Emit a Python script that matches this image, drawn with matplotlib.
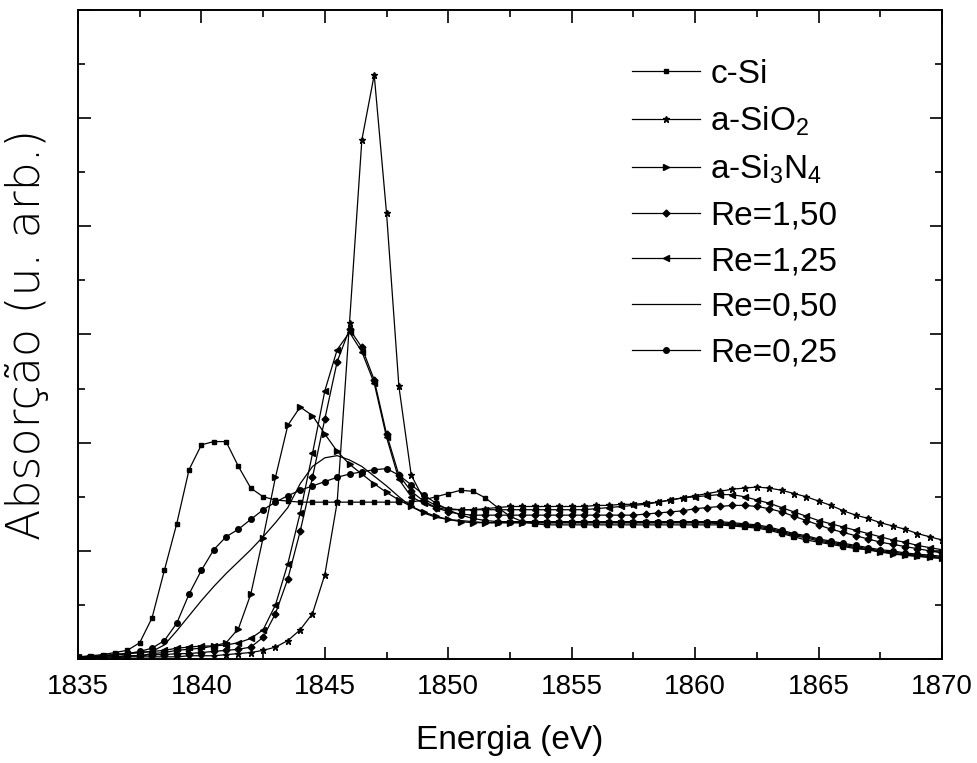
import matplotlib
matplotlib.use("Agg")
import matplotlib.pyplot as plt
from matplotlib.ticker import MultipleLocator, NullFormatter

plt.rcParams['font.family'] = ['Liberation Sans', 'DejaVu Sans']
plt.rcParams['mathtext.fontset'] = 'custom'
plt.rcParams['mathtext.rm'] = 'Liberation Sans'
plt.rcParams['mathtext.it'] = 'Liberation Sans:italic'

# energy grid (eV), 0.5 eV steps
energy = [1835.0, 1835.5, 1836.0, 1836.5, 1837.0, 1837.5, 1838.0, 1838.5, 1839.0, 1839.5,
          1840.0, 1840.5, 1841.0, 1841.5, 1842.0, 1842.5, 1843.0, 1843.5, 1844.0, 1844.5,
          1845.0, 1845.5, 1846.0, 1846.5, 1847.0, 1847.5, 1848.0, 1848.5, 1849.0, 1849.5,
          1850.0, 1850.5, 1851.0, 1851.5, 1852.0, 1852.5, 1853.0, 1853.5, 1854.0, 1854.5,
          1855.0, 1855.5, 1856.0, 1856.5, 1857.0, 1857.5, 1858.0, 1858.5, 1859.0, 1859.5,
          1860.0, 1860.5, 1861.0, 1861.5, 1862.0, 1862.5, 1863.0, 1863.5, 1864.0, 1864.5,
          1865.0, 1865.5, 1866.0, 1866.5, 1867.0, 1867.5, 1868.0, 1868.5, 1869.0, 1869.5,
          1870.0]

c_si = [0.02, 0.03, 0.04, 0.06, 0.08, 0.15, 0.38, 0.82, 1.25, 1.75,
        1.98, 2.01, 2.01, 1.78, 1.58, 1.50, 1.47, 1.46, 1.45, 1.45,
        1.45, 1.45, 1.45, 1.45, 1.45, 1.45, 1.45, 1.45, 1.47, 1.50,
        1.53, 1.56, 1.55, 1.49, 1.40, 1.32, 1.27, 1.25, 1.24, 1.24,
        1.24, 1.24, 1.24, 1.24, 1.24, 1.24, 1.24, 1.24, 1.24, 1.24,
        1.24, 1.24, 1.24, 1.23, 1.22, 1.21, 1.19, 1.16, 1.13, 1.10,
        1.08, 1.06, 1.04, 1.02, 1.01, 0.99, 0.98, 0.96, 0.95, 0.94,
        0.93]

a_sio2 = [0.01, 0.01, 0.01, 0.01, 0.02, 0.02, 0.02, 0.02, 0.02, 0.03,
          0.03, 0.03, 0.04, 0.05, 0.06, 0.08, 0.11, 0.17, 0.27, 0.42,
          0.78, 1.45, 3.11, 4.80, 5.40, 4.12, 2.52, 1.70, 1.48, 1.42,
          1.39, 1.38, 1.38, 1.39, 1.40, 1.41, 1.41, 1.41, 1.41, 1.41,
          1.41, 1.41, 1.42, 1.42, 1.43, 1.43, 1.44, 1.45, 1.47, 1.49,
          1.51, 1.53, 1.55, 1.57, 1.58, 1.59, 1.58, 1.56, 1.53, 1.50,
          1.46, 1.42, 1.37, 1.33, 1.30, 1.26, 1.23, 1.20, 1.16, 1.13,
          1.10]

a_si3n4 = [0.01, 0.01, 0.02, 0.02, 0.03, 0.03, 0.05, 0.06, 0.08, 0.09,
           0.10, 0.12, 0.15, 0.28, 0.60, 1.12, 1.68, 2.16, 2.33, 2.25,
           2.08, 1.92, 1.80, 1.71, 1.62, 1.54, 1.47, 1.41, 1.36, 1.32,
           1.29, 1.27, 1.26, 1.26, 1.26, 1.26, 1.26, 1.26, 1.26, 1.26,
           1.26, 1.26, 1.26, 1.26, 1.26, 1.26, 1.26, 1.26, 1.26, 1.26,
           1.26, 1.26, 1.25, 1.24, 1.23, 1.22, 1.20, 1.17, 1.14, 1.12,
           1.09, 1.07, 1.05, 1.03, 1.01, 0.99, 0.97, 0.96, 0.95, 0.94,
           0.93]

re_150 = [0.01, 0.01, 0.02, 0.02, 0.03, 0.03, 0.04, 0.04, 0.05, 0.05,
          0.06, 0.07, 0.08, 0.09, 0.11, 0.20, 0.42, 0.74, 1.18, 1.68,
          2.22, 2.75, 3.05, 2.88, 2.58, 2.08, 1.70, 1.55, 1.46, 1.40,
          1.36, 1.34, 1.33, 1.33, 1.33, 1.33, 1.33, 1.33, 1.33, 1.33,
          1.33, 1.33, 1.33, 1.33, 1.33, 1.33, 1.34, 1.35, 1.36, 1.37,
          1.39, 1.40, 1.41, 1.42, 1.42, 1.41, 1.39, 1.36, 1.32, 1.28,
          1.24, 1.20, 1.17, 1.14, 1.11, 1.08, 1.06, 1.04, 1.02, 1.00,
          0.98]

re_125 = [0.02, 0.02, 0.03, 0.04, 0.05, 0.06, 0.07, 0.08, 0.10, 0.11,
          0.12, 0.12, 0.13, 0.15, 0.19, 0.27, 0.50, 0.88, 1.35, 1.90,
          2.48, 2.86, 3.02, 2.84, 2.55, 2.05, 1.66, 1.50, 1.44, 1.40,
          1.38, 1.38, 1.38, 1.38, 1.38, 1.38, 1.38, 1.38, 1.38, 1.38,
          1.38, 1.38, 1.39, 1.40, 1.41, 1.42, 1.43, 1.45, 1.47, 1.49,
          1.50, 1.51, 1.52, 1.52, 1.50, 1.47, 1.44, 1.40, 1.36, 1.32,
          1.28, 1.25, 1.22, 1.19, 1.16, 1.13, 1.10, 1.08, 1.05, 1.03,
          1.01]

re_050 = [0.02, 0.02, 0.03, 0.04, 0.05, 0.06, 0.07, 0.13, 0.26, 0.40,
          0.54, 0.67, 0.79, 0.90, 1.01, 1.13, 1.26, 1.40, 1.62, 1.78,
          1.86, 1.88, 1.84, 1.78, 1.69, 1.60, 1.50, 1.41, 1.35, 1.31,
          1.29, 1.28, 1.27, 1.26, 1.26, 1.26, 1.26, 1.26, 1.26, 1.26,
          1.26, 1.26, 1.26, 1.26, 1.26, 1.26, 1.26, 1.26, 1.26, 1.26,
          1.26, 1.26, 1.26, 1.25, 1.24, 1.23, 1.21, 1.18, 1.15, 1.13,
          1.10, 1.08, 1.06, 1.04, 1.02, 1.00, 0.99, 0.97, 0.96, 0.95,
          0.94]

re_025 = [0.02, 0.02, 0.03, 0.04, 0.05, 0.07, 0.10, 0.17, 0.33, 0.60,
          0.82, 1.01, 1.13, 1.20, 1.29, 1.38, 1.45, 1.51, 1.56, 1.60,
          1.64, 1.68, 1.71, 1.73, 1.75, 1.76, 1.70, 1.61, 1.52, 1.44,
          1.38, 1.33, 1.30, 1.28, 1.27, 1.27, 1.27, 1.27, 1.27, 1.27,
          1.27, 1.27, 1.27, 1.27, 1.27, 1.27, 1.27, 1.27, 1.27, 1.27,
          1.27, 1.27, 1.27, 1.26, 1.25, 1.24, 1.22, 1.19, 1.16, 1.14,
          1.11, 1.09, 1.07, 1.05, 1.03, 1.01, 1.00, 0.98, 0.97, 0.96,
          0.95]

labels = ['c-Si', r'a-SiO$_\mathregular{2}$', r'a-Si$_\mathregular{3}$N$_\mathregular{4}$',
          'Re=1,50', 'Re=1,25', 'Re=0,50', 'Re=0,25']
series = [c_si, a_sio2, a_si3n4, re_150, re_125, re_050, re_025]
markers = ['s', '*', '>', 'D', '<', None, 'o']
msizes = [3.5, 5, 4.5, 3.5, 4.5, 0, 4]

fig = plt.figure(figsize=(9.77, 7.63), dpi=100)
ax = fig.add_axes([0.0798, 0.1363, 0.8844, 0.8506])

for y, lab, m, ms in zip(series, labels, markers, msizes):
    ax.plot(energy, y, color='black', linewidth=0.9, marker=m, markersize=ms,
            label=lab)

ax.set_xlim(1835, 1870)
ax.set_ylim(0, 6)
ax.xaxis.set_major_locator(MultipleLocator(5))
ax.xaxis.set_minor_locator(MultipleLocator(2.5))
ax.yaxis.set_major_locator(MultipleLocator(1))
ax.yaxis.set_minor_locator(MultipleLocator(0.5))
ax.yaxis.set_major_formatter(NullFormatter())
ax.tick_params(which='both', direction='in', top=True, right=True, width=1.2)
ax.tick_params(which='major', length=9, labelsize=20, pad=11)
ax.tick_params(which='minor', length=5)
for s in ax.spines.values():
    s.set_linewidth(1.4)

ax.set_xlabel('Energia (eV)', fontsize=24, labelpad=18)
# the scanned y label is long and thin, a wider face gets closer
ax.set_ylabel('Absorção (u. arb.)', fontsize=33, labelpad=10,
              family=['DejaVu Sans'], fontweight='light')

ax.legend(loc='upper left', bbox_to_anchor=(0.641, 0.925), frameon=False,
          fontsize=24, handlelength=2.06, handletextpad=0.3, labelspacing=0.44,
          borderpad=0, borderaxespad=0)

plt.savefig('out.png', dpi=100)
